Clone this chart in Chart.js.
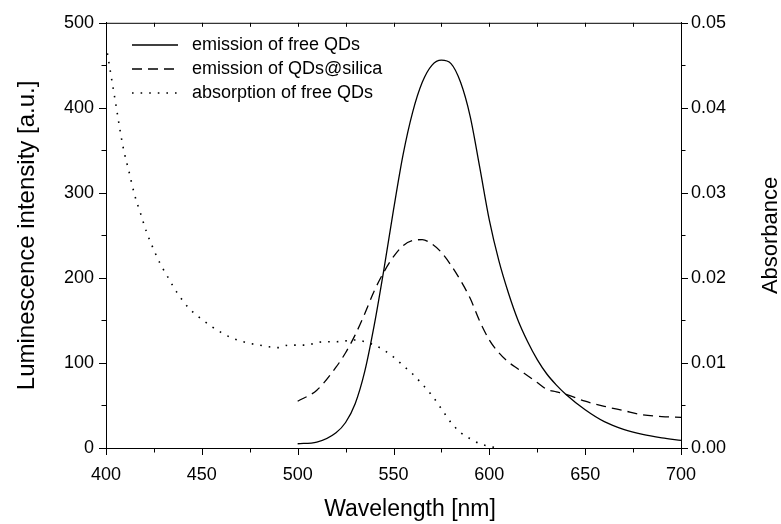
<!DOCTYPE html>
<html>
<head>
<meta charset="utf-8">
<script src="https://cdn.jsdelivr.net/npm/chart.js@4.4.1/dist/chart.umd.min.js"></script>
<style>
  html, body { margin: 0; padding: 0; background: #fff; }
</style>
</head>
<body>
<canvas id="spectra" width="781" height="524"></canvas>
<script>
// emission spectra (left axis, a.u.)
const emWavelength = [500, 510, 520, 525, 530, 535, 540, 545, 550, 555, 560, 565, 570, 575, 580, 585, 590, 595, 600, 605, 610, 615, 620, 625, 630, 635, 640, 650, 660, 670, 680, 690, 700];
const emFreeQDs    = [5, 7, 18, 30, 52, 90, 145, 210, 280, 345, 395, 430, 450, 456, 452, 430, 390, 330, 268, 220, 182, 150, 125, 104, 87, 74, 63, 45, 31, 22, 16, 12, 9];
const emSilica     = [55, 68, 95, 112, 133, 158, 185, 207, 225, 238, 244, 245, 240, 230, 215, 197, 176, 149, 127, 112, 101, 93, 85, 77, 69, 66, 63, 55, 49, 44, 39, 37, 36];

// absorption spectrum (right axis)
const absWavelength = [400, 403, 405, 407, 409, 412, 415, 418, 421, 424, 428, 432, 437, 443, 449, 455, 460, 465, 470, 475, 480, 485, 490, 495, 500, 505, 510, 515, 520, 525, 530, 535, 540, 545, 550, 555, 560, 565, 570, 575, 580, 585, 590, 595, 600, 604];
const absFreeQDs    = [0.0474, 0.0433, 0.0406, 0.0378, 0.0353, 0.0325, 0.0297, 0.0276, 0.0255, 0.0238, 0.0218, 0.0202, 0.0183, 0.0165, 0.0153, 0.0143, 0.0136, 0.0130, 0.0126, 0.0123, 0.0121, 0.0119, 0.0118, 0.0121, 0.0121, 0.0121, 0.0124, 0.0125, 0.0125, 0.0126, 0.0127, 0.0125, 0.0121, 0.0115, 0.0107, 0.0097, 0.0087, 0.0075, 0.0062, 0.0046, 0.0030, 0.0018, 0.0011, 0.0005, 0.0002, 0.0000];

const seriesLabels = ['emission of free QDs', 'emission of QDs@silica', 'absorption of free QDs'];

const xTicks = [400, 450, 500, 550, 600, 650, 700];
const leftTicks = [0, 100, 200, 300, 400, 500];
const rightTicks = [0, 0.01, 0.02, 0.03, 0.04, 0.05];

const FONT = '"Liberation Sans", Arial, sans-serif';

const toPoints = (xs, ys) => xs.map((x, i) => ({ x: x, y: ys[i] }));

// ticks (major + minor), top frame, legend and axis titles
const decor = {
  id: 'decor',
  afterDraw(chart) {
    const { ctx, chartArea: a, scales } = chart;
    ctx.save();
    ctx.strokeStyle = '#000';
    ctx.lineWidth = 1;
    ctx.setLineDash([]);
    ctx.beginPath();
    ctx.moveTo(a.left, a.top + 0.5);
    ctx.lineTo(a.right, a.top + 0.5);

    const withMinor = (ticks) => {
      const out = [];
      ticks.forEach((t, i) => {
        out.push({ v: t, major: true });
        if (i < ticks.length - 1) out.push({ v: (t + ticks[i + 1]) / 2, major: false });
      });
      return out;
    };

    withMinor(xTicks).forEach(t => {
      const px = Math.round(scales.x.getPixelForValue(t.v)) + 0.5;
      ctx.moveTo(px, a.bottom);
      ctx.lineTo(px, a.bottom + (t.major ? 7 : 4.5));
      ctx.moveTo(px, a.top);
      ctx.lineTo(px, a.top + 4);
    });
    withMinor(leftTicks).forEach(t => {
      const py = Math.round(scales.y.getPixelForValue(t.v)) + 0.5;
      ctx.moveTo(a.left, py);
      ctx.lineTo(a.left - (t.major ? 7 : 4.5), py);
    });
    withMinor(rightTicks).forEach(t => {
      const py = Math.round(scales.y1.getPixelForValue(t.v)) + 0.5;
      ctx.moveTo(a.right, py);
      ctx.lineTo(a.right + (t.major ? 7 : 4.5), py);
    });
    ctx.stroke();

    // legend
    ctx.font = '18px ' + FONT;
    ctx.fillStyle = '#000';
    ctx.textBaseline = 'middle';
    chart.data.datasets.forEach((ds, i) => {
      const y = 45 + i * 24;
      ctx.beginPath();
      ctx.lineWidth = ds.borderWidth;
      ctx.lineCap = ds.borderCapStyle || 'butt';
      ctx.setLineDash(ds.borderDash || []);
      ctx.moveTo(132, y);
      ctx.lineTo(178, y);
      ctx.stroke();
      ctx.fillText(ds.label, 192, y);
    });

    // axis titles
    ctx.textAlign = 'center';
    ctx.font = '23px ' + FONT;
    ctx.fillText('Wavelength [nm]', 410, 510);
    const mid = (a.top + a.bottom) / 2;
    ctx.save();
    ctx.font = '24px ' + FONT;
    ctx.translate(27, mid);
    ctx.rotate(-Math.PI / 2);
    ctx.fillText('Luminescence intensity [a.u.]', 0, 0);
    ctx.restore();
    ctx.save();
    ctx.font = '22px ' + FONT;
    ctx.translate(771, mid);
    ctx.rotate(-Math.PI / 2);
    ctx.fillText('Absorbance', 0, 0);
    ctx.restore();
    ctx.restore();
  }
};

const tickFont = { family: FONT, size: 18 };

new Chart(document.getElementById('spectra'), {
  type: 'line',
  data: {
    datasets: [{
      label: seriesLabels[0],
      data: toPoints(emWavelength, emFreeQDs),
      borderColor: '#000',
      borderWidth: 1.3,
      yAxisID: 'y'
    }, {
      label: seriesLabels[1],
      data: toPoints(emWavelength, emSilica),
      borderColor: '#000',
      borderWidth: 1.3,
      borderDash: [10, 6],
      yAxisID: 'y'
    }, {
      label: seriesLabels[2],
      data: toPoints(absWavelength, absFreeQDs),
      borderColor: '#000',
      borderWidth: 1.6,
      borderDash: [1.6, 7],
      borderCapStyle: 'butt',
      yAxisID: 'y1'
    }]
  },
  options: {
    responsive: false,
    devicePixelRatio: 1,
    animation: false,
    layout: { padding: { top: 21, left: 0, right: 0, bottom: 0 } },
    elements: {
      point: { radius: 0 },
      line: { cubicInterpolationMode: 'monotone', fill: false }
    },
    plugins: {
      legend: { display: false },
      tooltip: { enabled: false }
    },
    scales: {
      x: {
        type: 'linear',
        min: 400,
        max: 700,
        afterBuildTicks: s => { s.ticks = xTicks.map(v => ({ value: v })); },
        afterFit: s => { s.height = 76; },
        ticks: { font: tickFont, color: '#000', padding: 16, maxRotation: 0 },
        grid: { display: false, drawTicks: false },
        border: { display: true, color: '#000', width: 1 }
      },
      y: {
        position: 'left',
        min: 0,
        max: 500,
        afterBuildTicks: s => { s.ticks = leftTicks.map(v => ({ value: v })); },
        afterFit: s => { s.width = 106; },
        ticks: { font: tickFont, color: '#000', padding: 12 },
        grid: { display: false, drawTicks: false },
        border: { display: true, color: '#000', width: 1 }
      },
      y1: {
        position: 'right',
        min: 0,
        max: 0.05,
        afterBuildTicks: s => { s.ticks = rightTicks.map(v => ({ value: v })); },
        afterFit: s => { s.width = 100; },
        ticks: { font: tickFont, color: '#000', padding: 10, callback: v => v.toFixed(2) },
        grid: { display: false, drawTicks: false },
        border: { display: true, color: '#000', width: 1 }
      }
    }
  },
  plugins: [decor]
});
</script>
</body>
</html>
